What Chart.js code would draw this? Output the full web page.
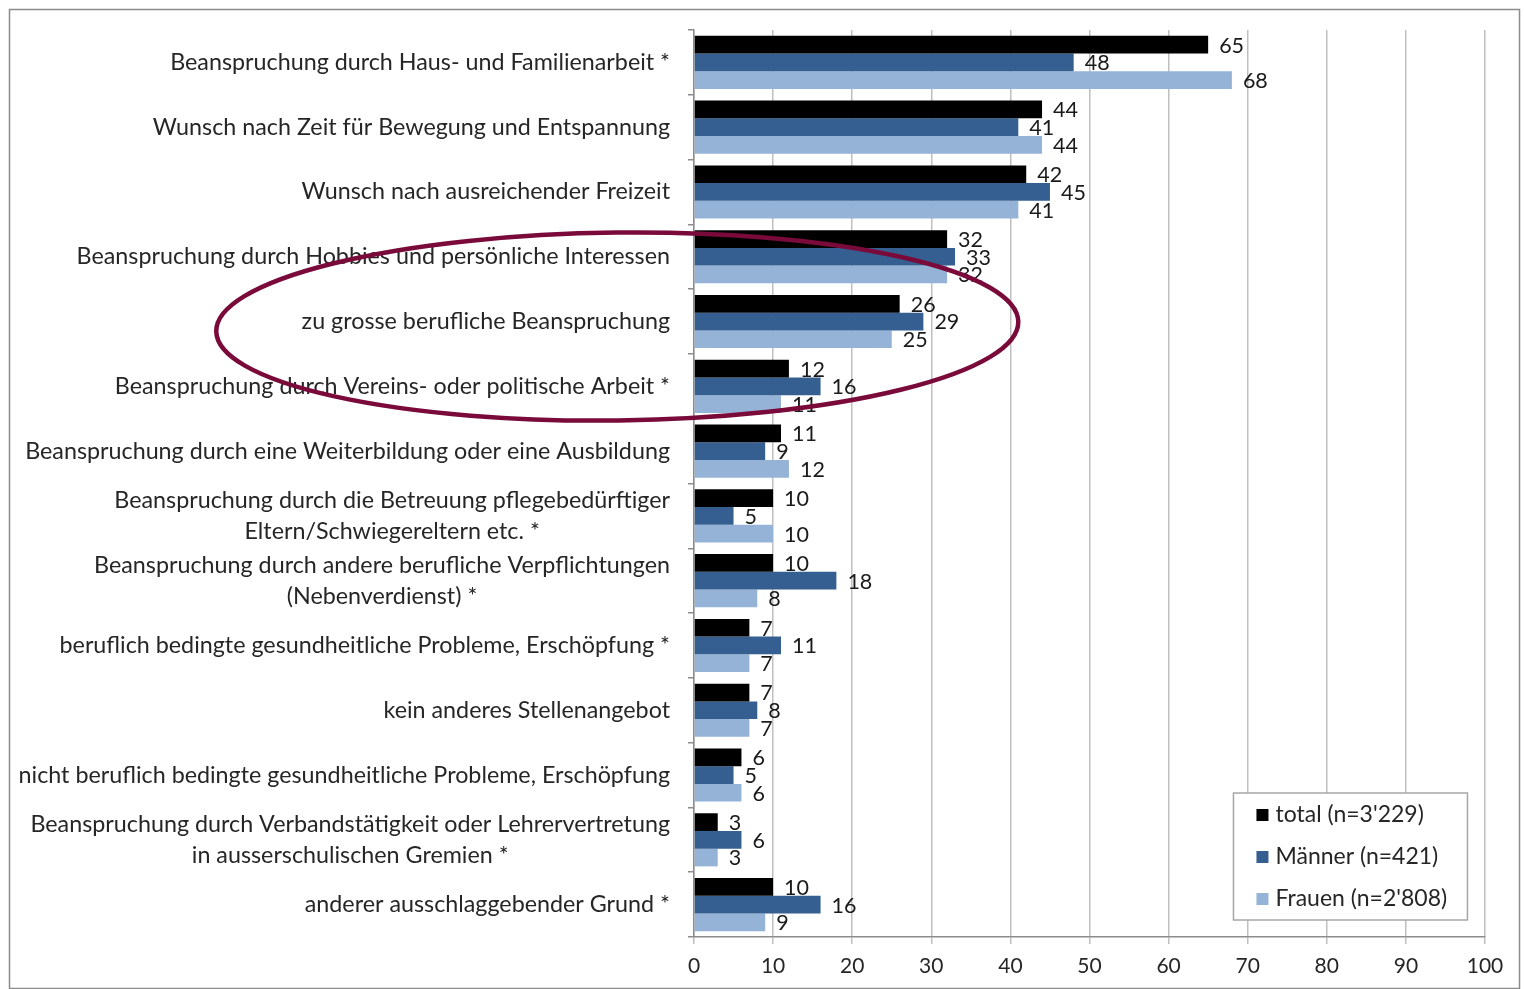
<!DOCTYPE html>
<html>
<head>
<meta charset="utf-8">
<script src="https://cdn.jsdelivr.net/npm/chart.js@4/dist/chart.umd.min.js"></script>
<style>
html,body{margin:0;padding:0;background:#fff;}
#wrap{position:relative;width:1524px;height:989px;}
</style>
</head>
<body>
<div id="wrap"><canvas id="c" width="1524" height="989"></canvas></div>
<script>
const categories = [
  "Beanspruchung durch Haus- und Familienarbeit *",
  "Wunsch nach Zeit für Bewegung und Entspannung",
  "Wunsch nach ausreichender Freizeit",
  "Beanspruchung durch Hobbies und persönliche Interessen",
  "zu grosse berufliche Beanspruchung",
  "Beanspruchung durch Vereins- oder politische Arbeit *",
  "Beanspruchung durch eine Weiterbildung oder eine Ausbildung",
  ["Beanspruchung durch die Betreuung pflegebedürftiger", "Eltern/Schwiegereltern etc. *"],
  ["Beanspruchung durch andere berufliche Verpflichtungen", "(Nebenverdienst) *"],
  "beruflich bedingte gesundheitliche Probleme, Erschöpfung *",
  "kein anderes Stellenangebot",
  "nicht beruflich bedingte gesundheitliche Probleme, Erschöpfung",
  ["Beanspruchung durch Verbandstätigkeit oder Lehrervertretung", "in ausserschulischen Gremien *"],
  "anderer ausschlaggebender Grund *"
];
const seriesNames = ["total (n=3'229)", "Männer (n=421)", "Frauen (n=2'808)"];
const totalValues  = [65, 44, 42, 32, 26, 12, 11, 10, 10, 7, 7, 6, 3, 10];
const maennerValues = [48, 41, 45, 33, 29, 16, 9, 5, 18, 11, 8, 5, 6, 16];
const frauenValues = [68, 44, 41, 32, 25, 11, 12, 10, 8, 7, 7, 6, 3, 9];
const xTicks = [0, 10, 20, 30, 40, 50, 60, 70, 80, 90, 100];
const seriesColors = ["#000000", "#365f91", "#95b3d7"];

const FONT = "Lato, 'Open Sans', sans-serif";

const bgPlugin = {
  id: 'bg',
  beforeDraw(chart) {
    const ctx = chart.ctx;
    ctx.save();
    ctx.fillStyle = '#fff';
    ctx.fillRect(0, 0, chart.width, chart.height);
    ctx.strokeStyle = '#8c8c8c';
    ctx.lineWidth = 1.5;
    ctx.strokeRect(9.5, 9.5, chart.width - 14, chart.height - 10);
    ctx.restore();
  }
};

const labelPlugin = {
  id: 'catLabels',
  afterDraw(chart) {
    const ctx = chart.ctx;
    const y = chart.scales.y;
    ctx.save();
    ctx.font = "23.3px " + FONT;
    ctx.fillStyle = '#262626';
    ctx.textBaseline = 'middle';
    ctx.textAlign = 'center';
    const right = y.right - 24;
    const lh = 31;
    categories.forEach((lab, i) => {
      const lines = Array.isArray(lab) ? lab : [lab];
      const w = Math.max(...lines.map(l => ctx.measureText(l).width));
      const cx = right - w / 2;
      const cy = y.getPixelForValue(i);
      lines.forEach((l, j) => {
        ctx.fillText(l, cx, cy + (j - (lines.length - 1) / 2) * lh);
      });
    });
    ctx.restore();
  }
};

const valuePlugin = {
  id: 'values',
  afterDatasetsDraw(chart) {
    const ctx = chart.ctx;
    ctx.save();
    ctx.font = "21.5px " + FONT;
    ctx.fillStyle = '#1a1a1a';
    ctx.textBaseline = 'middle';
    ctx.textAlign = 'left';
    chart.data.datasets.forEach((ds, di) => {
      const meta = chart.getDatasetMeta(di);
      meta.data.forEach((bar, i) => {
        ctx.fillText(String(ds.data[i]), bar.x + 11, bar.y + 1);
      });
    });
    ctx.restore();
  }
};

const ellipsePlugin = {
  id: 'ellipse',
  afterDraw(chart) {
    const ctx = chart.ctx;
    const x = chart.scales.x, y = chart.scales.y;
    const cx = x.getPixelForValue(-9.7);
    const rx = x.getPixelForValue(41) - cx;
    const cat = y.getPixelForValue(1) - y.getPixelForValue(0);
    const cy = y.getPixelForValue(4) + 5;
    const ry = cat * 1.45;
    ctx.save();
    ctx.strokeStyle = '#7a0a3a';
    ctx.lineWidth = 4.5;
    ctx.beginPath();
    ctx.ellipse(cx, cy, rx, ry, -0.012, 0, Math.PI * 2);
    ctx.stroke();
    ctx.restore();
  }
};

const legendPlugin = {
  id: 'customLegend',
  afterDraw(chart) {
    const ctx = chart.ctx;
    const x = chart.scales.x, y = chart.scales.y;
    const bx = x.getPixelForValue(68.2), by = y.bottom - 144;
    const bw = 234, bh = 127;
    ctx.save();
    ctx.fillStyle = '#fff';
    ctx.fillRect(bx, by, bw, bh);
    ctx.strokeStyle = '#a6a6a6';
    ctx.lineWidth = 1.5;
    ctx.strokeRect(bx, by, bw, bh);
    ctx.font = "23px " + FONT;
    ctx.textBaseline = 'middle';
    ctx.textAlign = 'left';
    chart.data.datasets.forEach((ds, i) => {
      const iy = by + 22 + i * 42;
      ctx.fillStyle = ds.backgroundColor;
      ctx.fillRect(bx + 23, iy - 6, 12, 12);
      ctx.fillStyle = '#262626';
      ctx.fillText(ds.label, bx + 42, iy);
    });
    ctx.restore();
  }
};

new Chart(document.getElementById('c'), {
  type: 'bar',
  data: {
    labels: categories,
    datasets: [
      { label: seriesNames[0], data: totalValues, backgroundColor: seriesColors[0] },
      { label: seriesNames[1], data: maennerValues, backgroundColor: seriesColors[1] },
      { label: seriesNames[2], data: frauenValues, backgroundColor: seriesColors[2] }
    ]
  },
  options: {
    indexAxis: 'y',
    responsive: false,
    animation: false,
    devicePixelRatio: 1,
    layout: { padding: { left: 10, top: 30, right: 39, bottom: 12 } },
    datasets: { bar: { categoryPercentage: 0.82, barPercentage: 1.0 } },
    plugins: { legend: { display: false }, tooltip: { enabled: false } },
    scales: {
      x: {
        min: 0, max: 100,
        afterBuildTicks(s) { s.ticks = xTicks.map(v => ({ value: v })); },
        afterFit(s) { s.height = 40; },
        grid: { color: '#bfbfbf', lineWidth: 1.5, tickLength: 7, drawTicks: true },
        border: { color: '#8c8c8c', width: 1.5 },
        ticks: { font: { family: FONT, size: 21 }, color: '#262626', padding: 10 }
      },
      y: {
        afterFit(s) { s.width = 684; },
        grid: { offset: true, drawOnChartArea: false, drawTicks: true, tickLength: 6, color: '#8c8c8c', lineWidth: 1.5 },
        border: { color: '#8c8c8c', width: 1.5 },
        ticks: { color: 'rgba(0,0,0,0)', font: { family: FONT, size: 1 } }
      }
    }
  },
  plugins: [bgPlugin, valuePlugin, labelPlugin, ellipsePlugin, legendPlugin]
});
</script>
</body>
</html>
